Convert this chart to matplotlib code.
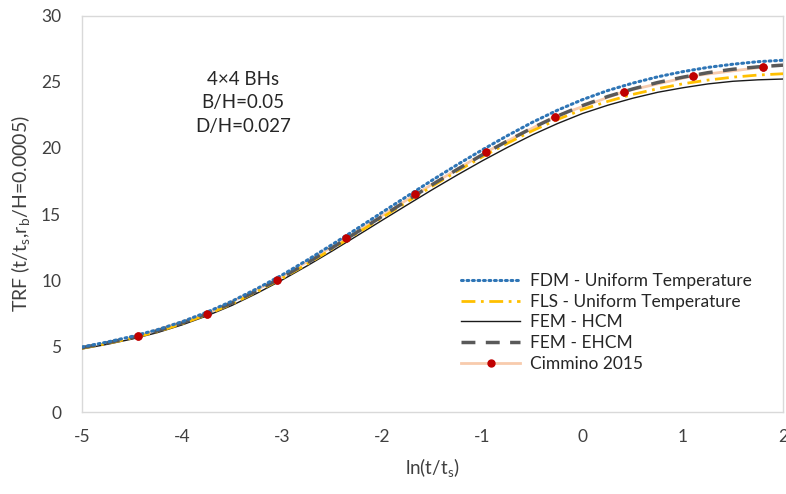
import matplotlib
matplotlib.use("Agg")
import matplotlib.pyplot as plt

plt.rcParams["font.family"] = ["Lato", "DejaVu Sans"]
plt.rcParams["axes.unicode_minus"] = False

# ln(t/ts) grid for the model curves
x_grid = [-5.0, -4.75, -4.5, -4.25, -4.0, -3.75, -3.5, -3.25, -3.0, -2.75, -2.5, -2.25,
          -2.0, -1.75, -1.5, -1.25, -1.0, -0.75, -0.5, -0.25, 0.0, 0.25, 0.5, 0.75,
          1.0, 1.25, 1.5, 1.75, 2.0]

fdm_uniform = [4.95, 5.32, 5.75, 6.25, 6.86, 7.59, 8.42, 9.37, 10.40, 11.52, 12.70, 13.91,
               15.14, 16.36, 17.57, 18.74, 19.86, 20.93, 21.94, 22.85, 23.65, 24.33, 24.89,
               25.37, 25.76, 26.08, 26.32, 26.51, 26.62]
fls_uniform = [4.85, 5.21, 5.62, 6.10, 6.70, 7.41, 8.21, 9.14, 10.14, 11.22, 12.37, 13.55,
               14.74, 15.93, 17.11, 18.25, 19.33, 20.35, 21.30, 22.15, 22.90, 23.51, 24.04,
               24.47, 24.84, 25.12, 25.34, 25.50, 25.60]
fem_hcm = [4.80, 5.15, 5.55, 6.03, 6.62, 7.31, 8.10, 9.02, 10.02, 11.09, 12.21, 13.37,
           14.54, 15.70, 16.85, 17.96, 19.03, 20.04, 20.99, 21.84, 22.60, 23.22, 23.75,
           24.20, 24.54, 24.83, 25.03, 25.14, 25.20]
fem_ehcm = [4.90, 5.26, 5.67, 6.16, 6.76, 7.47, 8.28, 9.21, 10.22, 11.31, 12.46, 13.64,
            14.84, 16.04, 17.23, 18.38, 19.48, 20.53, 21.52, 22.41, 23.20, 23.88, 24.45,
            24.94, 25.34, 25.68, 25.94, 26.12, 26.25]

# Cimmino (2015) reference points
cim_x = [-4.44, -3.75, -3.05, -2.36, -1.67, -0.97, -0.28, 0.41, 1.10, 1.80]
cim_y = [5.77, 7.47, 10.04, 13.17, 16.48, 19.67, 22.35, 24.25, 25.44, 26.10]

x_ticks = [-5, -4, -3, -2, -1, 0, 1, 2]
y_ticks = [0, 5, 10, 15, 20, 25, 30]

fig = plt.figure(figsize=(7.86, 4.94), dpi=100)
ax = fig.add_axes([0.1043, 0.165, 0.8919, 0.8036])

ax.plot(cim_x, cim_y, color="#f8cbad", lw=2.0, marker="o", ms=5,
        mfc="#c00000", mec="#c00000", label="Cimmino 2015", zorder=2)
ax.plot(x_grid, fem_hcm, color="#1a1a1a", lw=1.0, label="FEM - HCM", zorder=3)
ax.plot(x_grid, fls_uniform, color="#ffc000", lw=2.0, ls=(0, (5, 2, 1, 2)),
        label="FLS - Uniform Temperature", zorder=3)
ax.plot(x_grid, fem_ehcm, color="#595959", lw=2.5, ls=(0, (4, 3)),
        label="FEM - EHCM", zorder=3)
ax.plot(x_grid, fdm_uniform, color="#2e75b6", lw=2.2, ls=(0, (0.6, 1.2)),
        dash_capstyle="round", label="FDM - Uniform Temperature", zorder=4)
# keep the markers on top of the curves
ax.plot(cim_x, cim_y, ls="none", marker="o", ms=5, mfc="#c00000", mec="#c00000", zorder=5)

ax.set_xlim(-5, 2)
ax.set_ylim(0, 30)
ax.set_xticks(x_ticks)
ax.set_yticks(y_ticks)
ax.tick_params(length=0, labelsize=12.5, colors="#404040")
ax.tick_params(axis="y", pad=15)
ax.tick_params(axis="x", pad=12)
for sp in ax.spines.values():
    sp.set_color("#d9d9d9")
    sp.set_linewidth(1.0)

ax.set_xlabel("ln(t/t$_\\mathregular{s}$)", fontsize=13.5, color="#404040", labelpad=8)
ax.set_ylabel("TRF (t/t$_\\mathregular{s}$,r$_\\mathregular{b}$/H=0.0005)", fontsize=14,
              color="#404040", labelpad=6)

ax.text(-3.39, 23.4, "4×4 BHs\nB/H=0.05\nD/H=0.027", ha="center", va="center",
        fontsize=13.5, color="#262626", linespacing=1.45)

handles, labels = ax.get_legend_handles_labels()
order = ["FDM - Uniform Temperature", "FLS - Uniform Temperature", "FEM - HCM",
         "FEM - EHCM", "Cimmino 2015"]
hmap = dict(zip(labels, handles))
leg = ax.legend([hmap[k] for k in order], order, loc="center left",
                bbox_to_anchor=(0.541, 0.227), frameon=False, fontsize=12.5,
                borderpad=0, borderaxespad=0,
                handlelength=3.4, handletextpad=0.55, labelspacing=0.27,
                labelcolor="#262626")

fig.savefig("out.png", dpi=100)
